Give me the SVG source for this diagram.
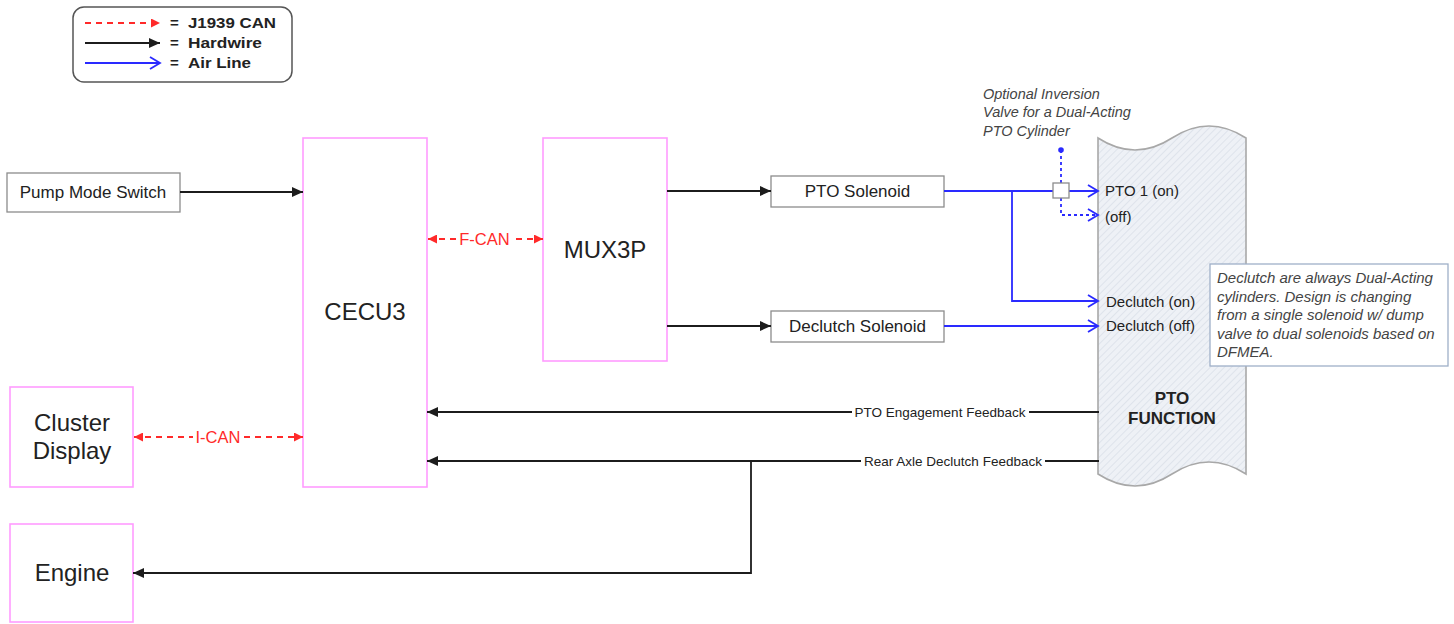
<svg xmlns="http://www.w3.org/2000/svg" width="1454" height="624" viewBox="0 0 1454 624">
<style>
  .pink{fill:#fff;stroke:#ff9cff;stroke-width:1.6}
  .gbox{fill:#fff;stroke:#8c8c8c;stroke-width:1.3}
  .t{font-family:"Liberation Sans",Arial,sans-serif;fill:#222}
  .big{font-size:24px}
  .mid{font-size:17px}
  .sm{font-size:15px}
  .fb{font-size:13.5px}
  .it{font-family:"Liberation Sans",Arial,sans-serif;font-style:italic;fill:#444}
  .hw{fill:none;stroke:#1c1c1c;stroke-width:1.8}
  .air{fill:none;stroke:#2a2aff;stroke-width:1.8}
  .airdot{fill:none;stroke:#2a2aff;stroke-width:1.8;stroke-dasharray:3 3}
  .can{fill:none;stroke:#ff2a2a;stroke-width:1.8;stroke-dasharray:6 5}
  .canlbl{font-family:"Liberation Sans",Arial,sans-serif;font-size:16.5px;fill:#ff2a2a}
</style>
<defs>
  <marker id="ab" markerUnits="userSpaceOnUse" markerWidth="12" markerHeight="10" refX="11" refY="5" orient="auto">
    <path d="M0,0 L11,5 L0,10 z" fill="#1c1c1c"/>
  </marker>
  <marker id="au" markerUnits="userSpaceOnUse" markerWidth="13" markerHeight="14" refX="11" refY="7" orient="auto">
    <path d="M1,1 L11,7 L1,13" fill="none" stroke="#2a2aff" stroke-width="1.8"/>
  </marker>
  <marker id="ar" markerUnits="userSpaceOnUse" markerWidth="10" markerHeight="9" refX="9" refY="4.5" orient="auto-start-reverse">
    <path d="M0,0 L9,4.5 L0,9 z" fill="#ff2a2a"/>
  </marker>
  <pattern id="hatch" patternUnits="userSpaceOnUse" width="5" height="5" patternTransform="rotate(45)">
    <rect width="5" height="5" fill="#eef1f6"/>
    <line x1="0" y1="0" x2="0" y2="5" stroke="#d9dfe8" stroke-width="1.5"/>
  </pattern>
</defs>
<rect width="1454" height="624" fill="#fff"/>

<g id="legend">
  <rect x="73" y="7" width="219" height="75" rx="11" fill="#fff" stroke="#555" stroke-width="1.5"/>
  <line x1="85" y1="23" x2="160" y2="23" class="can" marker-end="url(#ar)"/>
  <line x1="85" y1="43" x2="160" y2="43" class="hw" marker-end="url(#ab)"/>
  <line x1="85" y1="63" x2="160" y2="63" class="air" marker-end="url(#au)"/>
  <g class="t" font-weight="bold" font-size="15">
    <text x="170" y="28">=</text>
    <text x="188" y="28" textLength="88" lengthAdjust="spacingAndGlyphs">J1939 CAN</text>
    <text x="170" y="48">=</text>
    <text x="188" y="48" textLength="74" lengthAdjust="spacingAndGlyphs">Hardwire</text>
    <text x="170" y="68">=</text>
    <text x="188" y="68" textLength="63" lengthAdjust="spacingAndGlyphs">Air Line</text>
  </g>
</g>

<g id="pto-function">
  <path d="M1098,138 Q1135,162 1172,138 Q1209,114 1246,138 L1246,474 Q1209,450 1172,474 Q1135,498 1098,474 Z" fill="url(#hatch)" stroke="#a8a8a8" stroke-width="1.6"/>
  <text x="1172" y="404" class="t" font-size="17" font-weight="bold" text-anchor="middle">PTO</text>
  <text x="1172" y="424" class="t" font-size="17" font-weight="bold" text-anchor="middle">FUNCTION</text>
  <text x="1105" y="196" class="t sm">PTO 1 (on)</text>
  <text x="1105" y="222" class="t sm">(off)</text>
  <text x="1106" y="307" class="t sm">Declutch (on)</text>
  <text x="1106" y="331" class="t sm">Declutch (off)</text>
</g>

<g id="pump-mode-switch">
  <rect x="7" y="173" width="173" height="39" class="gbox"/>
  <text x="93" y="198" class="t mid" text-anchor="middle">Pump Mode Switch</text>
</g>

<g id="cecu3">
  <rect x="303" y="138" width="124" height="349" class="pink"/>
  <text x="365" y="320" class="t big" text-anchor="middle">CECU3</text>
</g>

<g id="mux3p">
  <rect x="543" y="138" width="124" height="223" class="pink"/>
  <text x="605" y="258" class="t big" text-anchor="middle">MUX3P</text>
</g>

<g id="pto-solenoid">
  <rect x="771" y="176" width="173" height="31" class="gbox"/>
  <text x="857.5" y="197" class="t mid" text-anchor="middle">PTO Solenoid</text>
</g>

<g id="declutch-solenoid">
  <rect x="771" y="311" width="173" height="31" class="gbox"/>
  <text x="857.5" y="332" class="t mid" text-anchor="middle">Declutch Solenoid</text>
</g>

<g id="cluster-display">
  <rect x="10" y="387" width="123" height="100" class="pink"/>
  <text x="72" y="431" class="t big" text-anchor="middle">Cluster</text>
  <text x="72" y="459" class="t big" text-anchor="middle">Display</text>
</g>

<g id="engine">
  <rect x="10" y="524" width="123" height="98" class="pink"/>
  <text x="72" y="581" class="t big" text-anchor="middle">Engine</text>
</g>

<g id="connectors">
  <line x1="180" y1="192" x2="303" y2="192" class="hw" marker-end="url(#ab)"/>
  <line x1="667" y1="191" x2="771" y2="191" class="hw" marker-end="url(#ab)"/>
  <line x1="667" y1="326" x2="771" y2="326" class="hw" marker-end="url(#ab)"/>

  <line x1="428" y1="239" x2="543" y2="239" class="can" marker-start="url(#ar)" marker-end="url(#ar)"/>
  <rect x="457" y="230" width="55" height="18" fill="#fff"/>
  <text x="484.5" y="245" class="canlbl" text-anchor="middle">F-CAN</text>

  <line x1="134" y1="437" x2="303" y2="437" class="can" marker-start="url(#ar)" marker-end="url(#ar)"/>
  <rect x="193" y="428" width="50" height="18" fill="#fff"/>
  <text x="218" y="443" class="canlbl" text-anchor="middle">I-CAN</text>

  <line x1="1099" y1="412" x2="427" y2="412" class="hw" marker-end="url(#ab)"/>
  <rect x="852" y="403" width="177" height="17" fill="#fff"/>
  <text x="940" y="417" class="t fb" text-anchor="middle">PTO Engagement Feedback</text>

  <line x1="1099" y1="461" x2="427" y2="461" class="hw" marker-end="url(#ab)"/>
  <polyline points="751,461 751,573 133,573" class="hw" marker-end="url(#ab)"/>
  <rect x="861" y="452" width="184" height="17" fill="#fff"/>
  <text x="953" y="466" class="t fb" text-anchor="middle">Rear Axle Declutch Feedback</text>

  <line x1="944" y1="191" x2="1098" y2="191" class="air" marker-end="url(#au)"/>
  <polyline points="1012,191 1012,301 1098,301" class="air" marker-end="url(#au)"/>
  <line x1="944" y1="326" x2="1098" y2="326" class="air" marker-end="url(#au)"/>
  <circle cx="1061" cy="150" r="2.8" fill="#2a2aff"/>
  <line x1="1061" y1="150" x2="1061" y2="183" class="airdot"/>
  <polyline points="1061,198 1061,215 1098,215" class="airdot" marker-end="url(#au)"/>
  <rect x="1053" y="183" width="16" height="15" fill="#fff" stroke="#8c8c8c" stroke-width="1.3"/>
</g>

<g id="optional-note">
  <text x="983" y="99" class="it" font-size="14.5">Optional Inversion</text>
  <text x="983" y="117" class="it" font-size="14.5">Valve for a Dual-Acting</text>
  <text x="983" y="136" class="it" font-size="14.5">PTO Cylinder</text>
</g>

<g id="declutch-note">
  <rect x="1210" y="264" width="238" height="102" fill="#fff" stroke="#9fb0c8" stroke-width="1.3"/>
  <g class="it" font-size="15">
    <text x="1217" y="283">Declutch are always Dual-Acting</text>
    <text x="1217" y="301.5">cylinders. Design is changing</text>
    <text x="1217" y="320">from a single solenoid w/ dump</text>
    <text x="1217" y="338.5">valve to dual solenoids based on</text>
    <text x="1217" y="357">DFMEA.</text>
  </g>
</g>
</svg>
